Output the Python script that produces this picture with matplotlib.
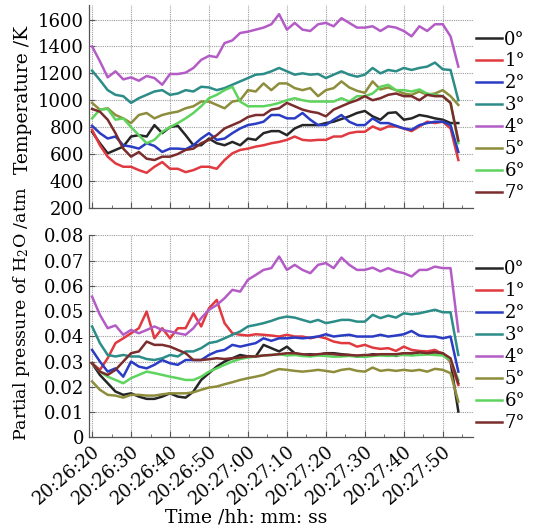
import numpy as np
import matplotlib
matplotlib.use("Agg")
import matplotlib.pyplot as plt
from matplotlib.ticker import MultipleLocator

plt.rcParams['font.family'] = ['DejaVu Serif']
plt.rcParams['mathtext.fontset'] = 'dejavuserif'

# seconds after 20:26:20, one sample every 2 s
seconds = [0, 2, 4, 6, 8, 10, 12, 14, 16, 18, 20, 22, 24, 26, 28, 30,
           32, 34, 36, 38, 40, 42, 44, 46, 48, 50, 52, 54, 56, 58, 60, 62,
           64, 66, 68, 70, 72, 74, 76, 78, 80, 82, 84, 86, 88, 90, 92, 94]
tick_seconds = [0, 10, 20, 30, 40, 50, 60, 70, 80, 90]
tick_labels = ['20:26:20', '20:26:30', '20:26:40', '20:26:50', '20:27:00',
               '20:27:10', '20:27:20', '20:27:30', '20:27:40', '20:27:50']
angles = ['0°', '1°', '2°', '3°', '4°', '5°', '6°', '7°']
colors = ['#262626', '#e03a40', '#2a3cc4', '#2b8c88', '#b45cc6', '#8d8d3c', '#5ed45e', '#7b2c2c']

# temperature, K
temp_0 = [765, 680, 605, 630, 655, 730, 740, 730, 815, 755, 800, 810, 740, 665, 665, 715,
          680, 665, 690, 665, 715, 705, 755, 770, 770, 740, 790, 815, 815, 815, 830, 840,
          860, 880, 905, 920, 880, 855, 905, 910, 855, 865, 890, 880, 865, 855, 830, 830]
temp_1 = [780, 665, 580, 530, 505, 505, 480, 460, 505, 540, 490, 490, 465, 480, 505, 505,
          490, 555, 605, 630, 640, 655, 665, 680, 690, 705, 730, 705, 700, 705, 705, 730,
          730, 755, 765, 765, 805, 780, 805, 805, 790, 770, 805, 840, 830, 840, 790, 555]
temp_2 = [810, 755, 715, 730, 665, 655, 640, 680, 660, 615, 640, 640, 635, 665, 715, 755,
          705, 715, 755, 790, 815, 825, 840, 890, 890, 865, 865, 905, 855, 815, 815, 855,
          890, 840, 815, 815, 865, 830, 830, 810, 790, 780, 815, 830, 840, 840, 815, 615]
temp_3 = [1220, 1150, 1075, 1040, 1030, 980, 1015, 1040, 1065, 1075, 1040, 1050, 1075, 1065, 1100, 1095,
          1075, 1090, 1115, 1140, 1165, 1190, 1195, 1215, 1240, 1215, 1190, 1200, 1190, 1195, 1165, 1190,
          1215, 1190, 1175, 1190, 1240, 1200, 1225, 1215, 1240, 1225, 1240, 1250, 1280, 1230, 1225, 1000]
temp_4 = [1400, 1290, 1170, 1215, 1155, 1170, 1145, 1180, 1165, 1115, 1195, 1195, 1205, 1240, 1300, 1330,
          1320, 1425, 1445, 1500, 1510, 1525, 1540, 1565, 1640, 1525, 1575, 1525, 1515, 1565, 1575, 1550,
          1610, 1575, 1540, 1540, 1550, 1515, 1550, 1540, 1515, 1475, 1550, 1515, 1565, 1565, 1475, 1250]
temp_5 = [980, 930, 940, 890, 865, 830, 890, 905, 865, 890, 905, 915, 940, 955, 990, 990,
          965, 940, 990, 1000, 1075, 1065, 1125, 1075, 1125, 1125, 1090, 1075, 1090, 1030, 1075, 1090,
          1140, 1095, 1070, 1055, 1140, 1080, 1095, 1075, 1050, 1040, 1065, 1040, 1050, 1075, 1030, 965]
temp_6 = [865, 930, 935, 855, 865, 800, 740, 680, 705, 765, 800, 830, 865, 905, 955, 1015,
          1040, 1075, 1100, 990, 955, 955, 955, 965, 980, 1000, 1015, 1000, 990, 990, 990, 990,
          1015, 990, 1030, 1030, 1050, 1100, 1115, 1075, 1075, 1065, 1080, 1050, 1040, 1030, 980, 680]
temp_7 = [935, 915, 855, 755, 640, 580, 615, 565, 555, 580, 580, 600, 630, 640, 680, 705,
          740, 790, 815, 840, 875, 890, 890, 930, 940, 980, 955, 930, 915, 905, 880, 930,
          955, 980, 1000, 1030, 1000, 1015, 1040, 1050, 1030, 1030, 1000, 1040, 1030, 1030, 980, 700]

# partial pressure of H2O, 1e-3 atm
ph2o_0 = [29.3, 24.7, 21.4, 18.1, 16.8, 17.4, 16.1, 15.2, 15.2, 16.1, 17.4, 16.1, 15.7, 18.1, 22.7, 25.4,
          28.0, 30.0, 31.3, 32.6, 32.0, 32.0, 36.6, 35.3, 34.0, 35.9, 33.3, 32.6, 32.9, 32.6, 33.3, 33.3,
          32.9, 32.6, 32.0, 32.2, 32.9, 32.6, 32.9, 32.2, 33.3, 32.6, 33.7, 33.3, 33.7, 33.3, 30.0, 10.2]
ph2o_1 = [29.3, 26.7, 31.3, 37.3, 39.2, 41.2, 43.2, 49.8, 39.2, 43.2, 39.2, 43.2, 43.2, 49.1, 43.9, 51.1,
          54.4, 45.2, 41.2, 40.6, 40.3, 40.8, 40.6, 40.3, 39.9, 40.6, 39.9, 39.9, 39.2, 39.9, 39.2, 37.9,
          37.3, 37.3, 35.9, 36.6, 35.5, 35.0, 35.3, 34.2, 35.9, 34.6, 34.2, 34.0, 34.6, 32.9, 30.0, 20.7]
ph2o_2 = [34.6, 30.0, 26.0, 27.3, 24.0, 30.0, 28.0, 27.3, 28.7, 30.6, 29.3, 28.7, 30.6, 30.6, 30.6, 32.6,
          34.0, 34.6, 36.6, 35.9, 36.6, 37.3, 39.2, 38.2, 39.2, 39.2, 39.5, 39.2, 39.5, 39.9, 40.8, 39.9,
          40.3, 40.6, 39.9, 39.9, 39.9, 40.6, 39.9, 40.3, 40.8, 42.1, 40.3, 39.9, 39.9, 39.2, 39.9, 26.0]
ph2o_3 = [43.9, 37.3, 32.6, 32.0, 32.6, 32.0, 32.0, 31.0, 30.6, 31.3, 32.6, 32.0, 34.0, 34.0, 35.3, 37.3,
          37.9, 39.2, 40.6, 41.9, 43.9, 44.5, 45.2, 46.1, 47.2, 47.8, 47.4, 46.5, 45.6, 46.5, 45.2, 45.8,
          46.5, 46.5, 45.8, 45.8, 48.5, 47.2, 48.2, 47.4, 49.1, 48.7, 49.1, 49.8, 50.5, 49.5, 49.5, 32.6]
ph2o_4 = [55.7, 48.5, 43.2, 44.3, 40.6, 42.5, 41.2, 42.5, 43.9, 42.5, 41.9, 41.2, 40.6, 43.2, 47.2, 50.5,
          52.4, 55.1, 58.4, 57.7, 62.4, 64.3, 66.3, 67.0, 71.6, 66.3, 68.3, 66.3, 65.0, 68.3, 69.0, 67.0,
          71.2, 68.3, 66.3, 66.3, 67.2, 65.7, 67.0, 65.7, 65.0, 63.7, 66.3, 66.3, 67.6, 67.0, 67.0, 41.9]
ph2o_5 = [22.1, 18.8, 16.8, 16.5, 15.7, 16.8, 16.8, 16.5, 16.5, 17.0, 17.4, 17.4, 17.4, 17.8, 18.8, 19.7,
          20.1, 21.0, 21.8, 22.7, 23.4, 24.0, 24.7, 26.0, 27.0, 26.7, 26.3, 26.0, 26.3, 26.7, 26.3, 25.8,
          26.7, 27.1, 26.3, 26.0, 27.6, 26.3, 26.7, 26.3, 26.7, 26.3, 26.7, 26.0, 27.1, 26.7, 25.4, 14.1]
ph2o_6 = [29.3, 26.0, 24.0, 22.7, 21.4, 23.4, 24.7, 26.0, 25.4, 24.7, 24.0, 23.4, 22.7, 22.7, 24.0, 26.0,
          27.3, 28.7, 30.0, 31.0, 31.6, 32.0, 32.4, 32.6, 32.9, 32.4, 32.6, 32.2, 32.0, 32.4, 32.2, 31.9,
          32.0, 32.2, 32.0, 31.8, 32.2, 32.4, 32.2, 32.4, 32.6, 32.4, 32.6, 32.8, 32.6, 32.4, 30.5, 22.7]
ph2o_7 = [29.3, 26.0, 24.7, 26.7, 30.0, 33.3, 34.0, 37.9, 36.6, 36.6, 35.9, 34.6, 33.3, 30.6, 30.6, 30.9,
          31.3, 31.0, 31.3, 31.6, 32.0, 32.0, 32.4, 32.6, 32.9, 33.3, 33.3, 32.9, 32.6, 32.9, 33.2, 32.9,
          32.6, 32.6, 32.4, 32.6, 32.6, 32.9, 32.9, 32.9, 33.3, 33.3, 33.7, 33.3, 33.7, 33.3, 31.3, 21.4]

temps = [temp_0, temp_1, temp_2, temp_3, temp_4, temp_5, temp_6, temp_7]
ph2os = [ph2o_0, ph2o_1, ph2o_2, ph2o_3, ph2o_4, ph2o_5, ph2o_6, ph2o_7]

fig = plt.figure(figsize=(5.36, 5.30), dpi=100)
ax_t = fig.add_axes([0.166, 0.608, 0.716, 0.383])
ax_p = fig.add_axes([0.166, 0.175, 0.716, 0.381])

t = np.array(seconds)
for ang, col, temp, ph in zip(angles, colors, temps, ph2os):
    ax_t.plot(t, temp, color=col, lw=1.8, label=ang)
    ax_p.plot(t, np.array(ph) / 1000.0, color=col, lw=1.8, label=ang)


def style_axis(ax):
    ax.set_xlim(-0.8, 97.7)
    ax.set_xticks(tick_seconds)
    ax.xaxis.set_minor_locator(MultipleLocator(5))
    for side in ['top', 'right']:
        ax.spines[side].set_visible(False)
    for side in ['left', 'bottom']:
        ax.spines[side].set_color('#555555')
        ax.spines[side].set_linewidth(0.9)
    ax.grid(True, which='major', color='#9a9a9a', ls=(0, (1, 1)), lw=0.8)
    ax.tick_params(which='both', direction='in', color='#555555', labelsize=13)
    ax.tick_params(which='major', length=4)
    ax.tick_params(which='minor', length=2.5)
    leg = ax.legend(loc='center left', bbox_to_anchor=(1.0, 0.45), frameon=False,
                    fontsize=13, handlelength=1.4, handletextpad=0.15,
                    labelspacing=0.22, borderaxespad=0.0, borderpad=0.2)
    return leg


style_axis(ax_t)
ax_t.set_ylim(200, 1710)
ax_t.set_yticks([200, 400, 600, 800, 1000, 1200, 1400, 1600])
ax_t.set_xticklabels([])
ax_t.set_ylabel('Temperature /K', fontsize=13.5)
ax_t.yaxis.set_label_coords(-0.148, 0.53)

style_axis(ax_p)
ax_p.set_ylim(0, 0.08)
ax_p.set_yticks([0, 0.01, 0.02, 0.03, 0.04, 0.05, 0.06, 0.07, 0.08])
ax_p.set_yticklabels(['0', '0.01', '0.02', '0.03', '0.04', '0.05', '0.06', '0.07', '0.08'])
ax_p.set_xticklabels(tick_labels, rotation=40, ha='right', va='top', rotation_mode='anchor')
ax_p.set_ylabel('Partial pressure of H$_2$O /atm', fontsize=12.5)
ax_p.yaxis.set_label_coords(-0.148, 0.61)

fig.text(0.459, 0.023, 'Time /hh: mm: ss', ha='center', va='center', fontsize=13.5)

fig.savefig('out.png', dpi=100)
